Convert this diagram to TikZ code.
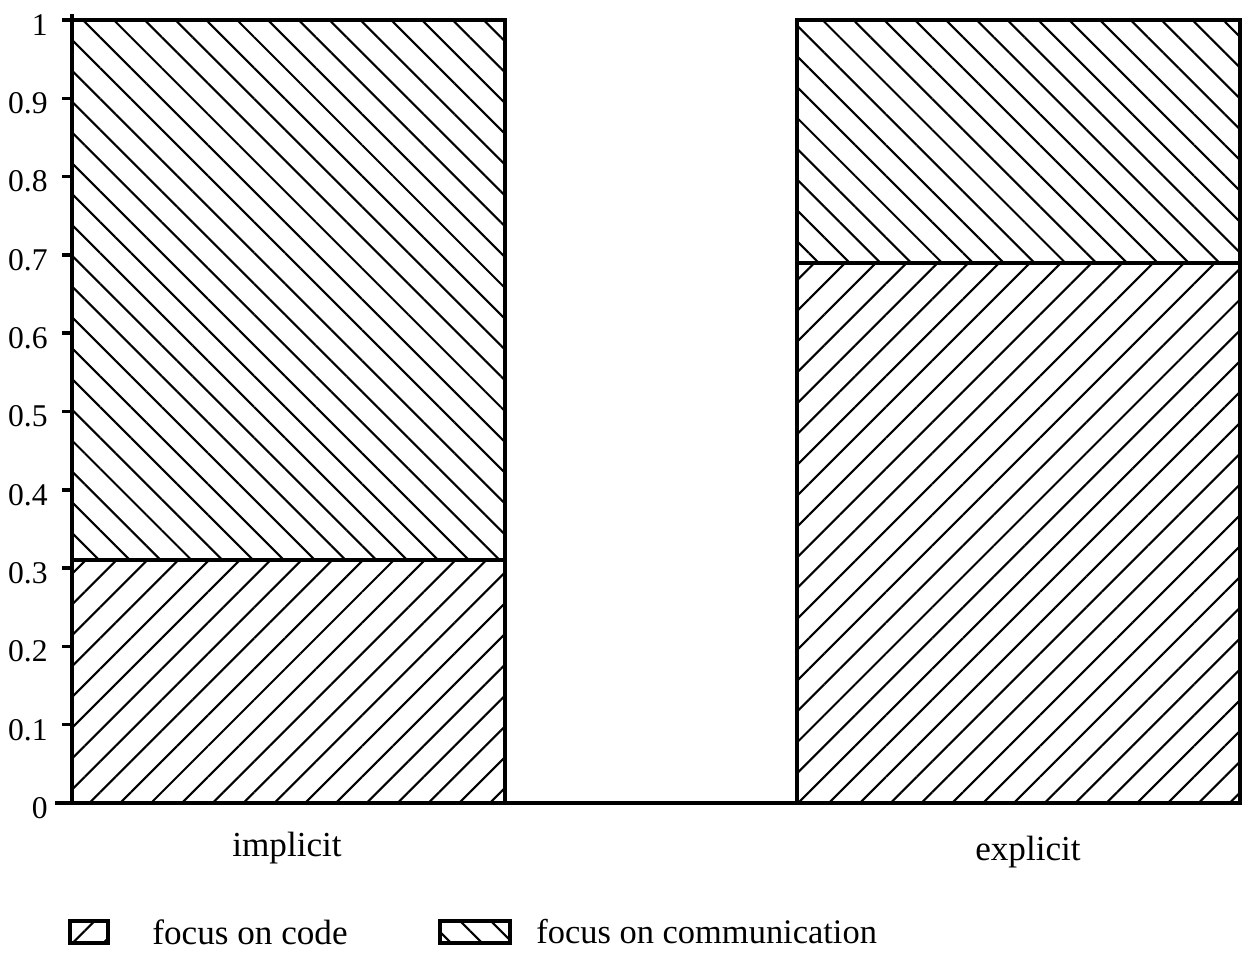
\documentclass[tikz,border=0pt]{standalone}
\usepackage{fontspec}
\setmainfont{Liberation Serif}
\usetikzlibrary{patterns.meta}

\tikzset{
  codefill/.style={pattern={Lines[angle=45,distance=6.2pt,line width=0.6pt]}},
  commfill/.style={pattern={Lines[angle=-45,distance=6.2pt,line width=0.6pt]}},
  barline/.style={line width=1pt},
  ticklabel/.style={anchor=east, font=\fontsize{9}{11}\selectfont}
}

\begin{document}
\begin{tikzpicture}[x=0.1mm, y=-0.1mm]
        \useasboundingbox (0,0) rectangle (1245,954);

        % Implicit bar (code 0.31, communication 0.69)
        \fill[codefill] (72,803) rectangle (505,560);
        \fill[commfill] (72,560) rectangle (505,20);
        \draw[barline] (72,20) rectangle (505,803);
        \draw[barline] (72,560) -- (505,560);

        % Explicit bar (code 0.69, communication 0.31)
        \fill[codefill] (797,803) rectangle (1240,263);
        \fill[commfill] (797,263) rectangle (1240,20);
        \draw[barline] (797,20) rectangle (1240,803);
        \draw[barline] (797,263) -- (1240,263);

        % Axes
        \draw[barline] (72,803) -- (72,14);
        \draw[barline] (55,803) -- (1240,803);

        % Ticks and labels
        \foreach \v [count=\i from 0] in {0,0.1,0.2,0.3,0.4,0.5,0.6,0.7,0.8,0.9,1} {
            \draw[barline] (62,{803-78.3*\i}) -- (72,{803-78.3*\i});
            \node[ticklabel] at (60,{808-78.3*\i}) {\v};
        }

        % Category labels
        \node[font=\fontsize{10}{12}\selectfont] at (287,848) {implicit};
        \node[font=\fontsize{10}{12}\selectfont] at (1028,852) {explicit};

        % Legend
        \fill[codefill] (70,921) rectangle (108,943);
        \draw[barline] (70,921) rectangle (108,943);
        \node[anchor=west, font=\fontsize{10}{12}\selectfont] at (140,932) {focus on code};
        \fill[commfill] (440,921) rectangle (510,943);
        \draw[barline] (440,921) rectangle (510,943);
        \node[anchor=west, font=\fontsize{9.8}{12}\selectfont] at (524,932) {focus on communication};

\end{tikzpicture}
\end{document}
